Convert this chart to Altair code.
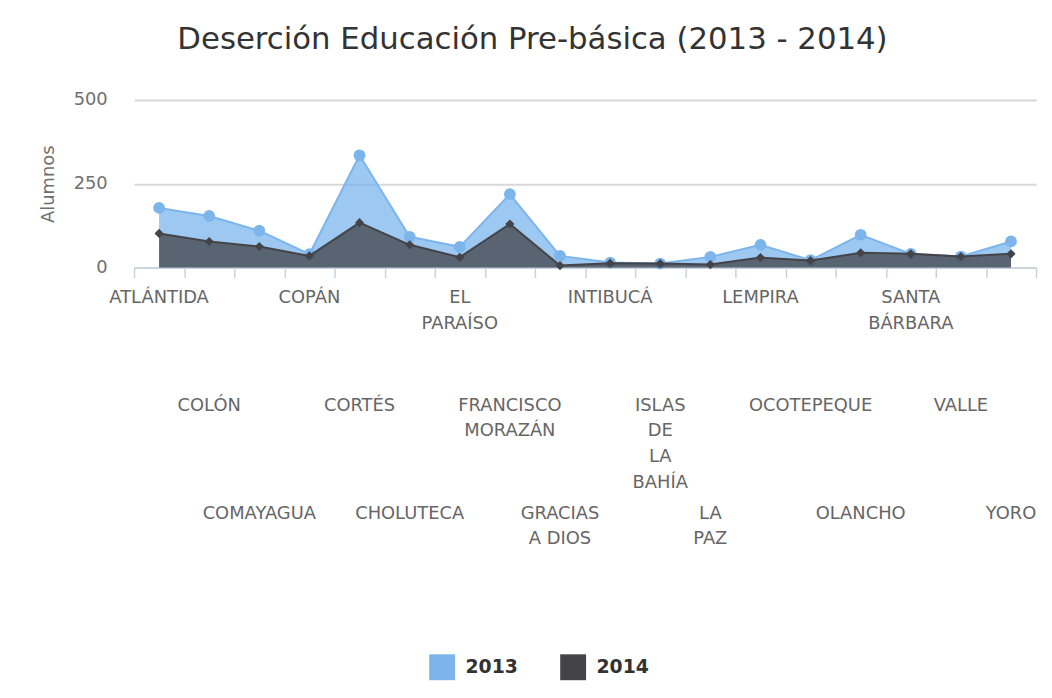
import altair as alt
import pandas as pd

categories = ["ATLÁNTIDA", "COLÓN", "COMAYAGUA", "COPÁN", "CORTÉS", "CHOLUTECA",
              "EL\nPARAÍSO", "FRANCISCO\nMORAZÁN", "GRACIAS\nA DIOS", "INTIBUCÁ",
              "ISLAS\nDE\nLA\nBAHÍA", "LA\nPAZ", "LEMPIRA", "OCOTEPEQUE", "OLANCHO",
              "SANTA\nBÁRBARA", "VALLE", "YORO"]
values_2013 = [178, 154, 110, 40, 335, 92, 62, 219, 35, 15, 12, 32, 68, 22, 98, 41, 33, 78]
values_2014 = [102, 78, 63, 35, 134, 68, 31, 130, 6, 13, 12, 9, 30, 21, 44, 41, 33, 41]
series_names = ["2013", "2014"]
series_colors = ["#7cb5ec", "#434348"]
y_ticks = [0, 250, 500]

rows = []
for i, c in enumerate(categories):
    rows.append({"idx": i, "cat": c, "series": "2013", "value": values_2013[i]})
    rows.append({"idx": i, "cat": c, "series": "2014", "value": values_2014[i]})
df = pd.DataFrame(rows)
labels_df = pd.DataFrame({"idx": list(range(len(categories))), "cat": categories,
                          "row": [i % 3 for i in range(len(categories))]})

W, H = 909, 169
FONT = "DejaVu Sans"

x_enc = alt.X("idx:Q",
              scale=alt.Scale(domain=[-0.5, len(categories) - 0.5], nice=False, zero=False),
              axis=alt.Axis(values=[i - 0.5 for i in range(len(categories) + 1)],
                            labels=False, ticks=True, tickSize=10, tickColor="#C8D2DC",
                            tickWidth=1.5, domainColor="#C8D2DC", domainWidth=1.5,
                            grid=False, title=None))
y_enc = alt.Y("value:Q", stack=None,
              scale=alt.Scale(domain=[0, 500], nice=False),
              axis=alt.Axis(values=y_ticks, title="Alumnos", titleFont=FONT,
                            titleFontSize=18, titleFontWeight="normal", titleColor="#707070",
                            titlePadding=16, labelFont=FONT, labelFontSize=18,
                            labelColor="#707070", labelPadding=27, ticks=False, domain=False,
                            grid=True, gridColor="#D8D8D8", gridWidth=2))
color_enc = alt.Color("series:N",
                      scale=alt.Scale(domain=series_names, range=series_colors),
                      legend=alt.Legend(title=None, orient="none", direction="horizontal",
                                        legendX=297, legendY=558, symbolType="square",
                                        symbolSize=680, symbolOpacity=1,
                                        symbolStrokeWidth=0, labelFont=FONT,
                                        labelFontSize=19, labelFontWeight="bold",
                                        labelColor="#333333", columnPadding=42,
                                        labelOffset=10))

base = alt.Chart(df)
layers = []
shapes = {"2013": ("circle", 140), "2014": ("diamond", 85)}
for s, col in zip(series_names, series_colors):
    area = base.transform_filter(alt.datum.series == s).mark_area(
        fillOpacity=0.75, line={"strokeWidth": 2, "color": col}
    ).encode(x=x_enc, y=y_enc, color=color_enc)
    shp, sz = shapes[s]
    pts = base.transform_filter(alt.datum.series == s).mark_point(
        shape=shp, size=sz, filled=True, opacity=1, color=col
    ).encode(x="idx:Q", y="value:Q")
    layers += [area, pts]

row_y = [191, 299, 408]
for r in range(3):
    txt = alt.Chart(labels_df).transform_filter(alt.datum.row == r).mark_text(
        font=FONT, fontSize=18, color="#666666", baseline="top", align="center",
        lineBreak="\n", lineHeight=26
    ).encode(x="idx:Q", y=alt.value(row_y[r]), text="cat:N")
    layers.append(txt)

chart = alt.layer(*layers).properties(
    width=W, height=H,
    background="white",
    title=alt.TitleParams("Deserción Educación Pre-básica (2013 - 2014)", font=FONT,
                          fontSize=31, fontWeight="normal", color="#333333",
                          anchor="middle", dx=-53, offset=35),
    autosize=alt.AutoSizeParams(type="none"),
    padding={"left": 127, "top": 90, "right": 8, "bottom": 420},
).configure_view(stroke=None)

chart.save("out.html", embed_options={"renderer": "svg", "actions": False})
